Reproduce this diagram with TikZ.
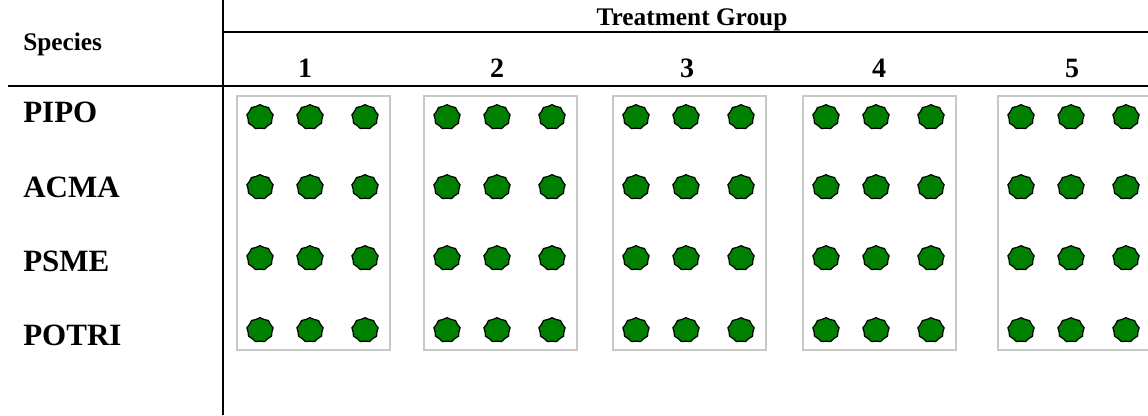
\documentclass[tikz,border=0pt]{standalone}
\usepackage{fontspec}
\setmainfont{Liberation Serif}
\usetikzlibrary{shapes.geometric}
\definecolor{treegreen}{RGB}{0,128,0}
\definecolor{boxgray}{RGB}{200,200,200}
\begin{document}
\begin{tikzpicture}[x=0.75pt,y=-0.75pt,
  rule/.style={line width=1.5pt, black},
  plotbox/.style={draw=boxgray, line width=1.4pt},
  hdr/.style={font=\bfseries\fontsize{19}{21}\selectfont, inner sep=0},
  num/.style={font=\bfseries\fontsize{21}{24}\selectfont, inner sep=0, anchor=base},
  spc/.style={font=\bfseries\fontsize{23.25}{26}\selectfont, inner sep=0, anchor=base west},
  dot/.style={star, star points=9, star point ratio=1.1, minimum size=18.5pt, inner sep=0,
    fill=treegreen, draw=black, line width=0.9pt, xscale=1.08, transform shape}]
\useasboundingbox (0,0) rectangle (1148,415);
% rules
\coordinate (vtop) at (223,0);
\coordinate (vbot) at (223,415);
\coordinate (h1l) at (223,32);
\coordinate (h1r) at (1148,32);
\coordinate (h2l) at (8,86);
\coordinate (h2r) at (1148,86);
\draw[rule] (vtop) -- (vbot);
\draw[rule] (h1l) -- (h1r);
\draw[rule] (h2l) -- (h2r);
% headers
\node[hdr, anchor=base] (tg) at (692,25) {Treatment Group};
\node[hdr, anchor=base west] (sp) at (23,50) {Species};
\foreach \n/\x in {1/305, 2/497, 3/687, 4/879, 5/1072}
  \node[num] (n\n) at (\x,77) {\n};
% species labels
\node[spc] (pipo) at (23,122) {PIPO};
\node[spc] (acma) at (23,197) {ACMA};
\node[spc] (psme) at (23,271) {PSME};
\node[spc] (potri) at (23,345) {POTRI};
% boxes and dots
\foreach \b/\L in {1/237, 2/424, 3/613, 4/803, 5/998} {
  \draw[plotbox] (\L,96) rectangle ++(153,254);
  \foreach \r/\y in {1/117, 2/187, 3/258, 4/330}
    \foreach \c/\dx in {1/23, 2/73, 3/128}
      \node[dot] (d\b-\r-\c) at (\L+\dx,\y) {};
}
\end{tikzpicture}
\end{document}
